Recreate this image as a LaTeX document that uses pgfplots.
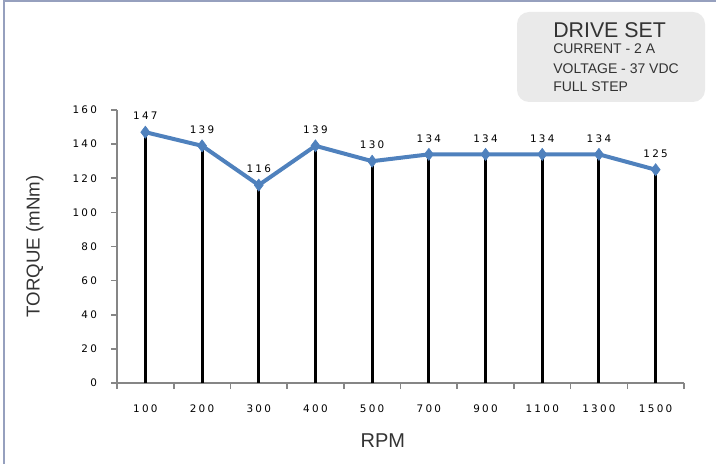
\documentclass[border=0pt]{standalone}
\usepackage{fontspec}
\setmainfont{Liberation Sans}
\newfontfamily\numfont[LetterSpace=22]{DejaVu Sans}
\usepackage{pgfplots}
\pgfplotsset{compat=1.18}

\definecolor{serblue}{RGB}{79,129,189}
\definecolor{axgray}{RGB}{134,134,134}
\definecolor{boxgray}{RGB}{234,234,234}
\definecolor{frameblue}{RGB}{150,160,190}

\begin{document}
\begin{tikzpicture}[x=0.75pt,y=0.75pt]
\useasboundingbox (0,0) rectangle (716,464);
\draw[frameblue, line width=1.2pt] (4,0) -- (4,463) -- (716,463);

% drive set box
\fill[boxgray, rounded corners=9] (517,362) rectangle (705,452);
\node[anchor=west, inner sep=0pt, text=black!80] at (553,434) {\fontsize{16}{18}\selectfont DRIVE SET};
\node[anchor=west, inner sep=0pt, text=black!80] at (553,415) {\fontsize{10.5}{12}\selectfont CURRENT - 2 A};
\node[anchor=west, inner sep=0pt, text=black!80] at (553,395.5) {\fontsize{10.5}{12}\selectfont VOLTAGE - 37 VDC};
\node[anchor=west, inner sep=0pt, text=black!80] at (553,377) {\fontsize{10.5}{12}\selectfont FULL STEP};

\begin{axis}[
  at={(87.75pt,60.75pt)}, anchor=south west, scale only axis,
  width=425.25pt, height=204.75pt,
  xmin=-0.5, xmax=9.5, ymin=0, ymax=160,
  axis x line*=bottom, axis y line*=left,
  axis line style={axgray, line width=1.5pt, -},
  tick align=outside,
  tick style={axgray, line width=1.2pt},
  major tick length=4.5pt,
  /pgf/number format/assume math mode=true,
  xtick={-0.5,0.5,...,9.5}, xticklabels={},
  extra x ticks={0,1,...,9},
  extra x tick labels={100,200,300,400,500,700,900,1100,1300,1500},
  extra x tick style={tick style={draw=none}},
  xticklabel style={font=\numfont\fontsize{7.8}{9}\selectfont, yshift=-8pt},
  ytick={0,20,...,160},
  yticklabel style={font=\numfont\fontsize{7.8}{9}\selectfont, xshift=-7pt},
  xlabel={RPM}, ylabel={TORQUE (mNm)},
  xlabel style={at={(axis description cs:0.469,0)}, anchor=center, yshift=-43.5pt,
    font=\fontsize{15}{17}\selectfont, text=black!80},
  ylabel style={at={(axis description cs:-0.145,0.5)}, anchor=center, rotate=0,
    font=\fontsize{14}{16}\selectfont, text=black!80},
  clip=false,
]
\addplot[serblue, line width=3pt, mark=diamond*, mark size=4.5pt,
  mark options={fill=serblue, line width=0.5pt},
  nodes near coords,
  every node near coord/.append style={font=\numfont\fontsize{7.8}{9}\selectfont,
    text=black, anchor=center, yshift=12pt}]
  coordinates {(0,147) (1,139) (2,116) (3,139) (4,130) (5,134) (6,134) (7,134) (8,134) (9,125)};
\addplot[ycomb, black, line width=2.2pt, mark=none]
  coordinates {(0,147) (1,139) (2,116) (3,139) (4,130) (5,134) (6,134) (7,134) (8,134) (9,125)};
\end{axis}
\end{tikzpicture}
\end{document}
